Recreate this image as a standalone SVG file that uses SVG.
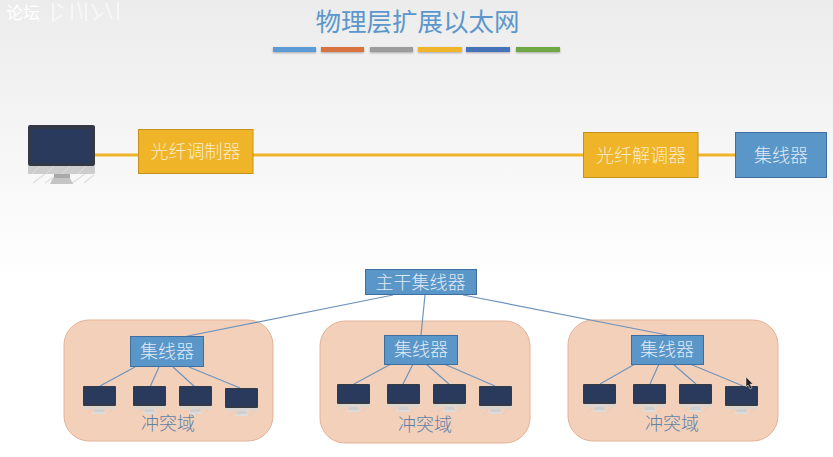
<svg xmlns="http://www.w3.org/2000/svg" width="833" height="457" viewBox="0 0 833 457">
<style>
text{font-family:"Noto Sans CJK SC","Noto Sans",sans-serif;font-weight:300;text-anchor:middle;dominant-baseline:central}
.lbl{fill:#f6eccb;font-size:18px}
.sm{fill:#dfeaf5;font-size:18px}
.dom{fill:#5f82a8;font-size:18px}
.y{fill:#f0b429;stroke:#c4921c;stroke-width:1}
.b{fill:#5b96c8;stroke:#3f6f9e;stroke-width:1}
.r{fill:#f3d0ba;stroke:#e3b296;stroke-width:1}
.thin{stroke:#6f94bc;stroke-width:1.2;fill:none}
.gold{stroke:#f0b429;stroke-width:3;fill:none}
</style>
<defs>
<linearGradient id="bg" x1="0" y1="0" x2="0" y2="1"><stop offset="0" stop-color="#ececec"/><stop offset="0.62" stop-color="#ffffff"/><stop offset="1" stop-color="#ffffff"/></linearGradient>
<filter id="sh" x="-10%" y="-50%" width="120%" height="220%"><feDropShadow dx="0" dy="1" stdDeviation="1" flood-color="#000" flood-opacity="0.3"/></filter>
<g id="mon">
<rect x="0" y="0" width="33" height="20" rx="1" fill="#333a45"/>
<rect x="1" y="1" width="31" height="17" fill="#2a3a5c"/>
<rect x="0" y="20" width="33" height="3" fill="#dcd6d0"/>
<path d="M4 28L10 23M14 28L20 23M24 28L30 23" stroke="#e2cdbf" stroke-width="1" fill="none"/>
<path d="M12 23H21L22 26H11Z" fill="#cfcfcf"/>
<rect x="10" y="26" width="13" height="2" fill="#dcdcdc"/>
</g>
</defs>
<rect width="833" height="457" fill="url(#bg)"/>
<text x="23" y="11" style="font-size:17px;fill:#ffffff;font-weight:400">论坛</text>
<path d="M53 3V21L62 15M57 4L63 8M72 3V20M78 2L82 19M86 3V21M92 4L98 16M94 20L103 13M106 3L112 19M118 2V20" stroke="#f6f6f6" stroke-width="2" fill="none"/>
<text x="417.500" y="19.500" style="font-size:25.500px;fill:#5b97cc;font-weight:400">物理层扩展以太网</text>
<g id="title-bars" filter="url(#sh)">
<rect x="273" y="47" width="43" height="5" fill="#5b9bd5"/>
<rect x="321" y="47" width="43" height="5" fill="#d8733f"/>
<rect x="370" y="47" width="43" height="5" fill="#9c9c9c"/>
<rect x="418" y="47" width="44" height="5" fill="#f0b429"/>
<rect x="466" y="47" width="44" height="5" fill="#4472b8"/>
<rect x="516" y="47" width="44" height="5" fill="#70a845"/>
</g>
<g id="domain-1"><rect class="r" x="64" y="320" width="209" height="121" rx="25"/></g>
<g id="domain-2"><rect class="r" x="320" y="321" width="210" height="122" rx="25"/></g>
<g id="domain-3"><rect class="r" x="568" y="320" width="210" height="121" rx="25"/></g>
<g id="connectors">
<path class="gold" d="M95 155H735"/>
<path class="thin" d="M393 295L183 337M425 295L421 335M463 295L667 335"/>
<path class="thin" d="M135 367L100 386M159 367L150 387M173 367L195 387M189 367L240 388"/>
<path class="thin" d="M391 364L354 384M413 364L403 384M426 364L449 384M444 364L495 386"/>
<path class="thin" d="M635 364L600 384M659 364L650 384M673 364L696 384M690 364L743 386"/>
</g>
<g id="computer">
<path d="M33 183L45 174M45 183L58 174M72 183L85 174M84 183L94 175" stroke="#e0e0e0" stroke-width="1.500" fill="none"/>
<rect x="28" y="125" width="67" height="41" rx="2" fill="#333a45"/>
<rect x="31" y="129" width="61" height="34" fill="#2a3a5c"/>
<rect x="28" y="166" width="67" height="8" rx="1" fill="#cdcdcd"/>
<path d="M32 174L40 166M46 174L54 166M62 174L70 166M78 174L86 166" stroke="#dedede" stroke-width="1" fill="none"/>
<rect x="54" y="174" width="16" height="4" fill="#a9a9a9"/>
<path d="M53 178H70L73 184H50Z" fill="#c4c4c4"/>
</g>
<g id="modulator"><rect class="y" x="138.500" y="129.500" width="114.500" height="44"/><text class="lbl" x="195.500" y="150">光纤调制器</text></g>
<g id="demodulator"><rect class="y" x="583.500" y="132.500" width="114.500" height="45"/><text class="lbl" x="641" y="154">光纤解调器</text></g>
<g id="hub-right"><rect class="b" x="735.500" y="132.500" width="91" height="45"/><text class="sm" x="781" y="153.500">集线器</text></g>
<g id="backbone"><rect class="b" x="365.500" y="269.500" width="111" height="25"/><text class="sm" x="420.500" y="280.500">主干集线器</text></g>
<g id="hub-1"><rect class="b" x="130.500" y="336.500" width="73" height="30"/><text class="sm" x="167" y="350">集线器</text></g>
<g id="hub-2"><rect class="b" x="384.500" y="335.500" width="73" height="29"/><text class="sm" x="421" y="348">集线器</text></g>
<g id="hub-3"><rect class="b" x="631.500" y="335.500" width="72" height="29"/><text class="sm" x="667" y="347.500">集线器</text></g>
<g id="pcs-1"><use href="#mon" x="83" y="386"/><use href="#mon" x="133" y="386"/><use href="#mon" x="179" y="386"/><use href="#mon" x="225" y="388"/></g>
<g id="pcs-2"><use href="#mon" x="337" y="384"/><use href="#mon" x="387" y="384"/><use href="#mon" x="433" y="384"/><use href="#mon" x="479" y="386"/></g>
<g id="pcs-3"><use href="#mon" x="583" y="384"/><use href="#mon" x="633" y="384"/><use href="#mon" x="679" y="384"/><use href="#mon" x="725" y="386"/></g>
<text class="dom" x="168" y="422">冲突域</text>
<text class="dom" x="425" y="423">冲突域</text>
<text class="dom" x="672" y="422">冲突域</text>
<path id="cursor" d="M746 377V387L748 385L750 389L752 388L750 384H753Z" fill="#222" stroke="#eee" stroke-width="0.500"/>
</svg>
